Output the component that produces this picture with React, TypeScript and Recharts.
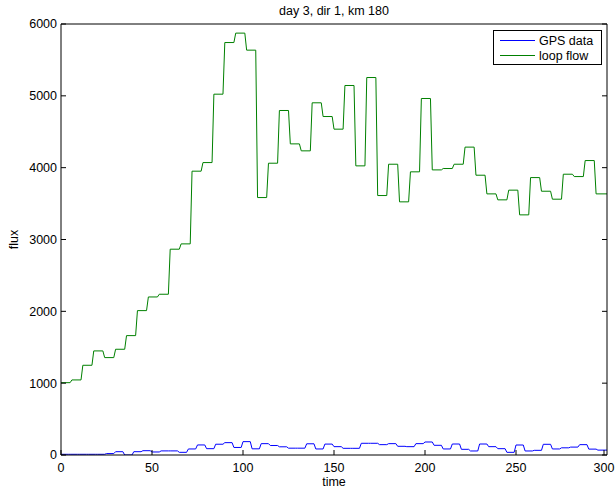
import { LineChart, Line, XAxis, YAxis, Legend } from "recharts";

// loop detector flow, one value per 6-unit interval (t = 0..300)
const loopFlow = [
  1007, 1045, 1249, 1449, 1356, 1472, 1662, 2010, 2200, 2238,
  2865, 2939, 3951, 4071, 5023, 5742, 5873, 5636, 3584, 4062,
  4796, 4331, 4234, 4903, 4712, 4536, 5144, 4025, 5255, 3612,
  4048, 3524, 3942, 4963, 3969, 3988, 4048, 4286, 3895, 3635,
  3552, 3687, 3343, 3862, 3672, 3561, 3909, 3876, 4099, 3635,
];
const loopStep = 6;

// GPS-derived flux, one value per 5-unit interval
const gpsFlux = [
  10, 10, 10, 10, 10, 20, 46, 0, 46, 60,
  42, 57, 57, 37, 84, 140, 88, 150, 172, 105,
  186, 86, 158, 132, 114, 95, 95, 156, 84, 152,
  116, 93, 93, 163, 163, 144, 158, 121, 116, 158,
  181, 135, 84, 153, 79, 56, 153, 116, 88, 37,
  139, 56, 65, 149, 84, 100, 110, 144, 82, 68,
];
const gpsStep = 5;

const timeTicks = [0, 50, 100, 150, 200, 250, 300];
const fluxTicks = [0, 1000, 2000, 3000, 4000, 5000, 6000];
const tMax = 300;

// each interval is held flat, then a 1-unit ramp to the next one
const toSteps = (vals: number[], step: number) =>
  vals.flatMap((v, i) => [
    { t: i * step, v },
    { t: i === vals.length - 1 ? tMax : i * step + step - 1, v },
  ]);

const loopData = toSteps(loopFlow, loopStep);
const gpsData = toSteps(gpsFlux, gpsStep);

const FONT = "'Liberation Sans', Arial, Helvetica, sans-serif";
const FS = 12.5;

const BottomTick = ({ x, y, payload }: any) => (
  <g>
    <line x1={x} y1={y} x2={x} y2={y - 5} stroke="#000" />
    <text x={x} y={y + 17} textAnchor="middle" fontSize={FS} fill="#000">
      {payload.value}
    </text>
  </g>
);

const TopTick = ({ x, y }: any) => (
  <line x1={x} y1={y} x2={x} y2={y + 5} stroke="#000" />
);

const LeftTick = ({ x, y, payload }: any) => (
  <g>
    <line x1={x} y1={y} x2={x + 5} y2={y} stroke="#000" />
    <text x={x - 4} y={y} dy="0.35em" textAnchor="end" fontSize={FS} fill="#000">
      {payload.value}
    </text>
  </g>
);

const RightTick = ({ x, y }: any) => (
  <line x1={x} y1={y} x2={x - 5} y2={y} stroke="#000" />
);

const FluxLabel = ({ viewBox }: any) => (
  <text
    transform={`translate(14, ${viewBox.y + viewBox.height / 2}) rotate(-90)`}
    textAnchor="middle"
    dy="0.35em"
    fontSize={FS}
    fill="#000"
  >
    flux
  </text>
);

const FluxLegend = ({ payload }: any) => (
  <div
    style={{
      width: 109,
      height: 35,
      border: "1px solid #000",
      background: "#fff",
      boxSizing: "border-box",
      paddingTop: 2,
      fontFamily: FONT,
    }}
  >
    {(payload || []).map((p: any) => (
      <div
        key={p.value}
        style={{ display: "flex", alignItems: "center", height: 15, fontSize: 12.5 }}
      >
        <span
          style={{
            display: "inline-block",
            width: 35,
            borderTop: `1px solid ${p.color}`,
            marginLeft: 6,
            marginRight: 4,
          }}
        />
        <span>{p.value}</span>
      </div>
    ))}
  </div>
);

export default function App() {
  return (
    <div style={{ position: "absolute", left: 0, top: 0, fontFamily: FONT }}>
      <LineChart
        width={616}
        height={492}
        margin={{ top: 23, right: 8, bottom: 7, left: 0 }}
      >
        <XAxis
          dataKey="t"
          type="number"
          domain={[0, tMax]}
          ticks={timeTicks}
          allowDataOverflow
          height={30}
          tickSize={0}
          tickMargin={0}
          tickLine={false}
          axisLine={{ stroke: "#000" }}
          tick={BottomTick}
          label={{ value: "time", position: "insideBottom", offset: -1, fill: "#000", fontSize: FS }}
        />
        <XAxis
          xAxisId="top"
          orientation="top"
          type="number"
          domain={[0, tMax]}
          ticks={timeTicks}
          allowDataOverflow
          height={1}
          tickSize={0}
          tickMargin={0}
          tickLine={false}
          axisLine={{ stroke: "#000" }}
          tick={TopTick}
          label={{ value: "day 3, dir 1, km 180", position: "top", offset: 8, fill: "#000", fontSize: FS }}
        />
        <YAxis
          type="number"
          domain={[0, 6000]}
          ticks={fluxTicks}
          allowDataOverflow
          width={61}
          tickSize={0}
          tickMargin={0}
          tickLine={false}
          axisLine={{ stroke: "#000" }}
          tick={LeftTick}
          label={<FluxLabel />}
        />
        <YAxis
          yAxisId="right"
          orientation="right"
          type="number"
          domain={[0, 6000]}
          ticks={fluxTicks}
          allowDataOverflow
          width={1}
          tickSize={0}
          tickMargin={0}
          tickLine={false}
          axisLine={{ stroke: "#000" }}
          tick={RightTick}
        />
        <Legend
          layout="horizontal"
          verticalAlign="middle"
          align="center"
          content={<FluxLegend />}
          wrapperStyle={{ position: "absolute", left: 493, top: 30, width: 109 }}
        />
        <Line
          data={gpsData}
          dataKey="v"
          name="GPS data"
          type="linear"
          stroke="#0000ff"
          strokeWidth={1}
          dot={false}
          isAnimationActive={false}
        />
        <Line
          data={loopData}
          dataKey="v"
          name="loop flow"
          type="linear"
          stroke="#008000"
          strokeWidth={1}
          dot={false}
          isAnimationActive={false}
        />
      </LineChart>
    </div>
  );
}
